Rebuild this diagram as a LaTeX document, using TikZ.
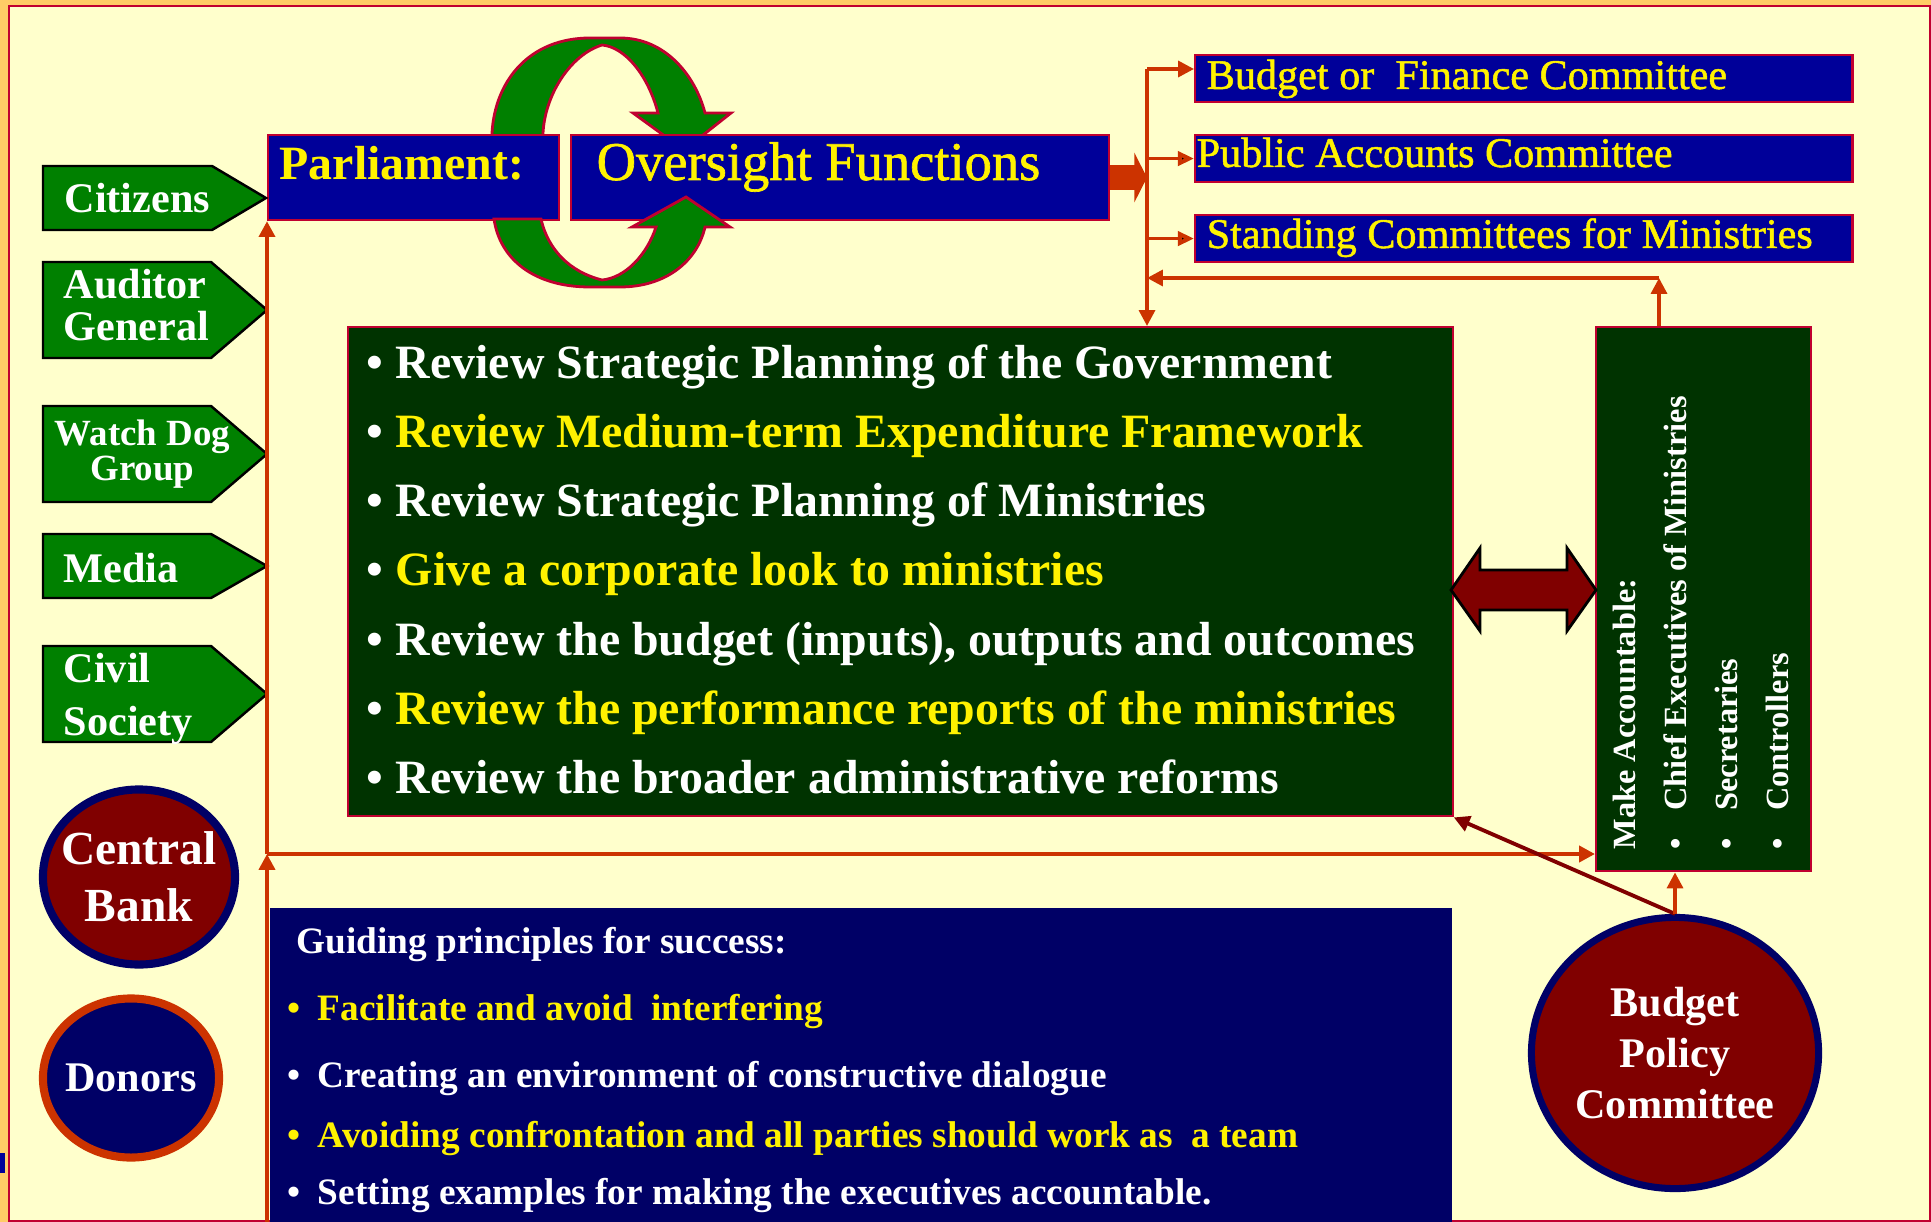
\documentclass[tikz,border=0pt]{standalone}
\usepackage{fontspec}
\setmainfont{Liberation Serif}
\newfontfamily\headfont[FakeBold=1.2]{Liberation Serif}
\usepackage{tikz}
\usetikzlibrary{shapes.geometric}
\usetikzlibrary{arrows.meta}

\definecolor{framebg}{HTML}{FFCC66}
\definecolor{panelbg}{HTML}{FFFFCC}
\definecolor{edgered}{HTML}{C00030}
\definecolor{deepblue}{HTML}{000099}
\definecolor{navy}{HTML}{000066}
\definecolor{forest}{HTML}{003300}
\definecolor{taggreen}{HTML}{008000}
\definecolor{darkred}{HTML}{800000}
\definecolor{rust}{HTML}{CC3300}

\newcommand{\itemdot}[1]{\makebox[#1][l]{\textbullet}}

\begin{document}
\begin{tikzpicture}[x=0.01cm,y=-0.01cm,>={Triangle[length=4.5pt,width=4.5pt]},
  panel/.style={draw=edgered, line width=0.6pt, inner sep=0pt, anchor=north west},
  committee/.style={panel, fill=deepblue, minimum width=6.57cm, minimum height=0.47cm},
  committee text/.style={anchor=base west, inner sep=0pt, text=yellow, font=\headfont\fontsize{12}{14}\selectfont},
  tag/.style={draw=black, line width=0.7pt, fill=taggreen},
  tag text/.style={anchor=base west, inner sep=0pt, text=white, align=left, font=\bfseries\fontsize{12}{14}\selectfont},
  line text/.style={anchor=base west, inner sep=0pt, text=yellow, font=\bfseries\fontsize{13.6}{16}\selectfont},
  guide text/.style={anchor=base west, inner sep=0pt, font=\bfseries\fontsize{10.6}{12}\selectfont},
  disc/.style={ellipse, line width=2.3pt, inner sep=0pt},
  disc text/.style={text=white, align=center, inner sep=0pt},
  wire/.style={rust, line width=1pt},
  spine/.style={rust, line width=1.3pt},
  boxed tip/.style={-{Triangle[fill=black, length=4.6pt, width=4pt, line width=1.2pt]}},
  loop arrow/.style={fill=taggreen, draw=edgered, line width=0.8pt}]

  \useasboundingbox (0,0) rectangle (1931,1222);
  % frame
  \fill[framebg] (0,0) rectangle (1931,1222);
  \draw[edgered, fill=panelbg, line width=0.4pt] (9,6) rectangle (1930,1221);
  \fill[deepblue] (0,1153) rectangle (5,1173);

  % loop arrow, upper half (behind the title boxes)
  \filldraw[loop arrow] (492,170) -- (492,133) .. controls (495,80) and (530,38) .. (590,38)
    -- (620,38) .. controls (665,38) and (695,75) .. (705,113) -- (731,113) -- (684,150)
    -- (633,113) -- (658,113) .. controls (648,75) and (625,47) .. (602,45)
    .. controls (570,55) and (545,95) .. (543,133) -- (543,170) -- cycle;

  % title boxes
  \node[panel, fill=deepblue, minimum width=2.91cm, minimum height=0.85cm] (parl) at (267,134) {};
  \node[anchor=base west, inner sep=0pt, text=yellow, font=\bfseries\fontsize{13.6}{16}\selectfont] (parltext) at (279,180) {Parliament:};
  \node[panel, fill=deepblue, minimum width=5.38cm, minimum height=0.85cm] (over) at (570,134) {};
  \node[anchor=base west, inner sep=0pt, text=yellow, font=\headfont\fontsize{15.5}{18}\selectfont] (overtext) at (596,180) {Oversight Functions};

  % loop arrow, lower half
  \filldraw[loop arrow] (494,219) .. controls (500,260) and (535,287) .. (590,287)
    -- (620,287) .. controls (665,287) and (697,262) .. (705,227) -- (730,227) -- (686,197)
    -- (632,227) -- (656,227) .. controls (647,255) and (625,278) .. (602,280)
    .. controls (570,272) and (548,250) .. (541,219) -- cycle;

  % committees
  \node[committee] (budget) at (1194,54) {};
  \node[committee text] (budgettext) at (1206,89) {Budget or\ \ Finance Committee};
  \node[committee] (pac) at (1194,134) {};
  \node[committee text] (pactext) at (1196,167) {Public Accounts Committee};
  \node[committee] (standing) at (1194,214) {};
  \node[committee text] (standingtext) at (1206,248) {Standing Committees for Ministries};

  % review list
  \node[panel, fill=forest, minimum width=11.04cm, minimum height=4.89cm] (review) at (347,326) {};
  \node[line text, text=white] (rev1) at (366,379) {\itemdot{8.3pt}Review Strategic Planning of the Government};
  \node[line text] (rev2) at (366,448) {{\color{white}\itemdot{8.3pt}}Review Medium-term Expenditure Framework};
  \node[line text, text=white] (rev3) at (366,517) {\itemdot{8.3pt}Review Strategic Planning of Ministries};
  \node[line text] (rev4) at (366,586) {{\color{white}\itemdot{8.3pt}}Give a corporate look to ministries};
  \node[line text, text=white] (rev5) at (366,655) {\itemdot{8.3pt}Review the budget (inputs), outputs and outcomes};
  \node[line text] (rev6) at (366,724) {{\color{white}\itemdot{8.3pt}}Review the performance reports of the ministries};
  \node[line text, text=white] (rev7) at (366,793) {\itemdot{8.3pt}Review the broader administrative reforms};

  % accountable box
  \node[panel, fill=forest, minimum width=2.15cm, minimum height=5.44cm] (acc) at (1595,326) {};
  \node[rotate=90, anchor=north west, inner sep=0pt, text=white, align=left,
        font=\bfseries\fontsize{9.2}{14.5}\selectfont] (acctext) at (1612,850)
        {Make Accountable:\\\itemdot{11pt}Chief Executives of Ministries\\\itemdot{11pt}Secretaries\\\itemdot{11pt}Controllers};

  % two way arrow
  \filldraw[fill=darkred, draw=black, line width=0.8pt] (1451,590) -- (1480,548) -- (1480,570)
    -- (1567,570) -- (1567,548) -- (1596,590) -- (1567,631) -- (1567,610) -- (1480,610)
    -- (1480,631) -- cycle;

  % guiding principles
  \node[anchor=north west, fill=navy, inner sep=0pt, minimum width=11.82cm, minimum height=3.15cm] (guide) at (269,907) {};
  \node[guide text, text=white] (guide0) at (296,953) {Guiding principles for success:};
  \node[guide text, text=yellow] (guide1) at (287,1020) {\itemdot{8.6pt}Facilitate and avoid\ \ interfering};
  \node[guide text, text=white] (guide2) at (287,1087) {\itemdot{8.6pt}Creating an environment of constructive dialogue};
  \node[guide text, text=yellow] (guide3) at (287,1147) {\itemdot{8.6pt}Avoiding confrontation and all parties should work as\ \ a team};
  \node[guide text, text=white] (guide4) at (287,1204) {\itemdot{8.6pt}Setting examples for making the executives accountable.};

  % actors on the left
  \filldraw[tag] (43,166) -- (212,166) -- (266,198) -- (212,230) -- (43,230) -- cycle;
  \node[tag text] (citizens) at (64,213) {Citizens};
  \filldraw[tag] (43,262) -- (211,262) -- (267,310) -- (211,358) -- (43,358) -- cycle;
  \node[tag text, font=\bfseries\fontsize{12}{12.2}\selectfont] (auditor) at (63,341) {Auditor\\General};
  \filldraw[tag] (43,406) -- (211,406) -- (267,454) -- (211,502) -- (43,502) -- cycle;
  \node[tag text, align=center, font=\bfseries\fontsize{10.5}{10.2}\selectfont] (watchdog) at (54,481) {Watch Dog\\Group};
  \filldraw[tag] (43,534) -- (211,534) -- (267,566) -- (211,598) -- (43,598) -- cycle;
  \node[tag text] (media) at (63,582) {Media};
  \filldraw[tag] (43,646) -- (211,646) -- (267,694) -- (211,742) -- (43,742) -- cycle;
  \node[tag text, font=\bfseries\fontsize{12}{14.8}\selectfont] (civil) at (63,735) {Civil\\Society};

  % discs
  \node[disc, fill=darkred, draw=navy, minimum width=1.92cm, minimum height=1.75cm] (bank) at (139,877) {};
  \node[disc text, font=\bfseries\fontsize{13.5}{16.2}\selectfont] (banktext) at (bank) {Central\\Bank};
  \node[disc, fill=navy, draw=rust, minimum width=1.76cm, minimum height=1.59cm] (donors) at (131,1078) {};
  \node[disc text, font=\bfseries\fontsize{12}{14}\selectfont] (donorstext) at (donors) {Donors};
  \node[disc, fill=darkred, draw=navy, line width=2pt, minimum width=2.87cm, minimum height=2.71cm] (bpc) at (1675,1053) {};
  \node[disc text, font=\bfseries\fontsize{12}{14.5}\selectfont] (bpctext) at (bpc) {Budget\\Policy\\Committee};

  % connectors
  \coordinate (fork) at (1147,69);
  \coordinate (turn) at (1659,278);
  \coordinate (foot) at (267,1222);
  \coordinate (hub) at (267,854);
  \draw[rust, line width=7pt, -{Triangle[length=3.6pt,width=14pt]}] (over.east) -- (over.east -| fork);
  \draw[wire, ->] (fork) -- (fork |- review.north);
  \draw[wire, ->] (fork) -- (fork -| budget.west);
  \draw[wire, boxed tip] (fork |- pac.west) -- (pac.west);
  \draw[wire, boxed tip] (fork |- standing.west) -- (standing.west);
  \draw[wire, ->] (acc.north -| turn) -- (turn);
  \draw[wire, ->] (turn) -- (turn -| fork);
  \draw[spine, ->] (foot) -- (hub);
  \draw[spine, ->] (hub) -- (parl.south west);
  \draw[spine, ->] (hub) -- (hub -| acc.west);
  \draw[darkred, line width=1.1pt, ->] (bpc.north) -- (review.south east);
  \draw[wire, ->] (bpc.north) -- (bpc.north |- acc.south);

\end{tikzpicture}
\end{document}
